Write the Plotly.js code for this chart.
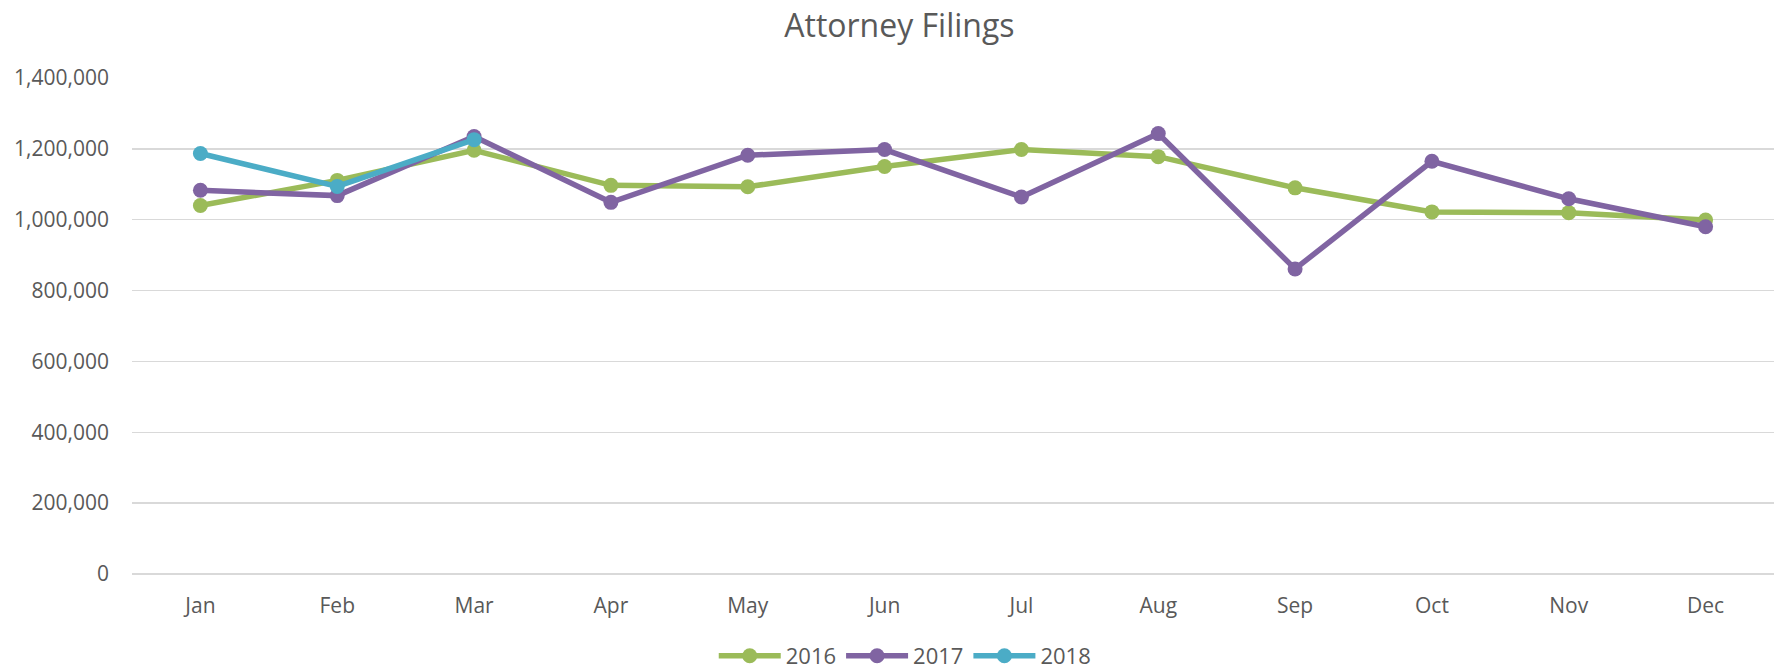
<!DOCTYPE html>
<html>
<head>
<meta charset="utf-8">
<script src="https://cdn.plot.ly/plotly-3.0.1.min.js"></script>
<style>html,body{margin:0;padding:0;background:#fff;}#chart{width:1781px;height:670px;}</style>
</head>
<body>
<div id="chart"></div>
<script>
const months = ["Jan","Feb","Mar","Apr","May","Jun","Jul","Aug","Sep","Oct","Nov","Dec"];
const filings2016 = [1040000,1111000,1196000,1097000,1093000,1150000,1198000,1178000,1090000,1022000,1020000,999000];
const filings2017 = [1083000,1068000,1235000,1049000,1182000,1198000,1064000,1243000,861000,1165000,1059000,980000];
const months2018 = ["Jan","Feb","Mar"];
const filings2018 = [1187000,1094000,1226000];
const yTicks = [0,200000,400000,600000,800000,1000000,1200000,1400000];

const fontFam = '"Open Sans", "Liberation Sans", sans-serif';
const textColor = '#595959';

function series(name, x, y, color) {
  return {
    type: 'scatter', mode: 'lines+markers', name: name, x: x, y: y,
    line: {color: color, width: 5.5},
    marker: {color: color, size: 15},
    cliponaxis: false
  };
}

const data = [
  series('2016', months, filings2016, '#9BBB59'),
  series('2017', months, filings2017, '#8064A2'),
  series('2018', months2018, filings2018, '#4BACC6')
];

const layout = {
  width: 1781, height: 670,
  paper_bgcolor: '#ffffff', plot_bgcolor: '#ffffff',
  font: {family: fontFam, color: textColor, size: 21},
  margin: {l: 132, r: 7, t: 78, b: 96},
  title: {text: 'Attorney Filings', font: {size: 32, color: textColor, family: fontFam},
          xref: 'container', x: 0.505, xanchor: 'center', yref: 'container', y: 0.962, yanchor: 'middle'},
  xaxis: {type: 'category', categoryorder: 'array', categoryarray: months, range: [-0.5, 11.5],
          showgrid: false, zeroline: false, showline: false, ticks: '',
          ticklabelstandoff: 17, tickfont: {size: 21, color: textColor}},
  yaxis: {range: [0, 1400000], tickvals: yTicks, tickformat: ',d',
          showgrid: true, gridcolor: '#d9d9d9', gridwidth: 1.5,
          zeroline: true, zerolinecolor: '#d9d9d9', zerolinewidth: 1.5,
          showline: false, ticks: '', ticklabelstandoff: 22, tickfont: {size: 21, color: textColor}},
  showlegend: true,
  legend: {orientation: 'h', xref: 'container', x: 0.508, xanchor: 'center',
           yref: 'container', y: 0.021, yanchor: 'middle', font: {size: 22, color: textColor},
           itemwidth: 62, tracegroupgap: 0},
  hovermode: false
};

Plotly.newPlot('chart', data, layout, {displayModeBar: false, staticPlot: true});
</script>
</body>
</html>
